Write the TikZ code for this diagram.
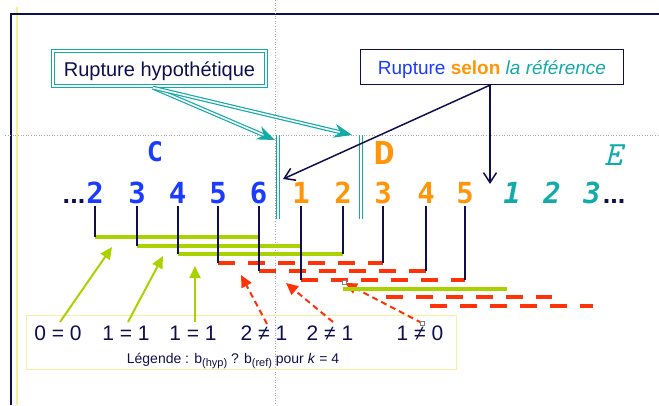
\documentclass[tikz,border=0pt]{standalone}
\usepackage{fontspec}
\setmainfont{Liberation Sans}
\newfontfamily\dmono{DejaVu Sans Mono}
\newfontfamily\lmono{Liberation Mono}
\usetikzlibrary{arrows.meta}
\definecolor{cblue}{RGB}{25,60,255}
\definecolor{corange}{RGB}{255,150,10}
\definecolor{cteal}{RGB}{20,170,170}
\definecolor{cnavy}{RGB}{15,15,80}
\definecolor{cgreen}{RGB}{170,210,0}
\definecolor{cred}{RGB}{255,50,10}
\definecolor{cyellow}{RGB}{245,240,160}
\tikzset{
  digit/.style={anchor=base, inner sep=0, font=\fontsize{29}{29}\selectfont\dmono\bfseries},
  bdig/.style={digit, text=cblue},
  odig/.style={digit, text=corange},
  tdig/.style={digit, text=cteal, font=\fontsize{29}{29}\selectfont\dmono\bfseries\itshape},
  dots/.style={anchor=base, inner sep=0, text=cnavy, font=\fontsize{27}{27}\selectfont\bfseries},
  vline/.style={cnavy, line width=2pt},
  gbar/.style={cgreen, line width=4pt},
  rbar/.style={cred, line width=4pt, dash pattern=on 17pt off 13pt},
  garrow/.style={cgreen, line width=2pt, -{Triangle[length=12pt,width=11pt]}},
  rarrow/.style={cred, line width=2pt, dash pattern=on 6pt off 4pt, -{Triangle[length=12pt,width=11pt]}},
  tarrow/.style={cteal, double=white, line width=1.2pt, double distance=1.6pt, -{Stealth[length=18pt,width=14pt]}},
  narrow/.style={cnavy, line width=1.5pt, -{Straight Barb[length=10pt,width=13pt]}},
  tbar/.style={cteal, double=white, line width=1.2pt, double distance=1.6pt},
  legtext/.style={anchor=base, inner sep=0, text=cnavy, font=\fontsize{21}{21}\selectfont},
  handle/.style={draw=gray, fill=white, line width=0.5pt, minimum size=4pt, inner sep=0},
  tealframe/.style={cteal, line width=1.3pt},
}
\begin{document}
\begin{tikzpicture}[x=1pt,y=-1pt]
\useasboundingbox (0,0) rectangle (659,405);
% frame and guides
\draw[cyellow, line width=1.5pt] (17,7) -- (17,405);
\draw[cnavy, line width=1.5pt] (11,405) -- (11,14) -- (659,14);
\draw[gray!70, dotted, line width=0.6pt] (275,0) -- (275,405);
\draw[gray!70, dotted, line width=0.6pt] (5,135) -- (659,135);

% boxes
\node[minimum width=216pt, minimum height=38pt, inner sep=0,
      text height=17pt, text depth=2pt, font=\fontsize{20}{20}\selectfont]
  (hyp) at (159.5,68.5) {\textcolor{cnavy}{Rupture hypothétique}};
\draw[tealframe] (hyp.north west) rectangle (hyp.south east);
\draw[tealframe] ([xshift=3pt,yshift=-3pt]hyp.north west) rectangle ([xshift=-3pt,yshift=3pt]hyp.south east);
\node[draw=cnavy, line width=1.3pt, minimum width=263pt, minimum height=35pt, inner sep=0,
      text height=16pt, text depth=2pt, font=\fontsize{19}{19}\selectfont]
  (ref) at (492,67) {\textcolor{cblue}{Rupture} \textcolor{corange}{\bfseries selon} \textcolor{cteal}{\itshape la référence}};
\node[draw=cyellow, line width=1.5pt, minimum width=430pt, minimum height=54pt, inner sep=0]
  (leg) at (241.5,342.5) {};

% segment labels
\node[text=cblue, font=\fontsize{27}{27}\selectfont\dmono\bfseries] (C) at (155,152) {C};
\node[text=corange, font=\fontsize{35}{35}\selectfont\lmono\bfseries] (D) at (384,153) {D};
\node[text=cteal, font=\fontsize{34}{34}\selectfont\ttfamily\itshape] (E) at (613,155) {E};

% digits
\node[dots] (ldots) at (74,203) {...};
\node[bdig] (b2) at (95,203) {2};
\node[bdig] (b3) at (137,203) {3};
\node[bdig] (b4) at (177.5,203) {4};
\node[bdig] (b5) at (218,203) {5};
\node[bdig] (b6) at (258.5,203) {6};
\node[odig] (o1) at (301,203) {1};
\node[odig] (o2) at (343,203) {2};
\node[odig] (o3) at (383,203) {3};
\node[odig] (o4) at (426,203) {4};
\node[odig] (o5) at (465,203) {5};
\node[tdig] (t1) at (512,203) {1};
\node[tdig] (t2) at (552,203) {2};
\node[tdig] (t3) at (592,203) {3};
\node[dots] (rdots) at (614,203) {...};

% teal double bars (hypothesis boundaries)
\coordinate (h1top) at (278,135); \coordinate (h1bot) at (278,219);
\coordinate (h2top) at (361,135); \coordinate (h2bot) at (361,219);
\draw[tbar] (h1top) -- (h1bot);
\draw[tbar] (h2top) -- (h2bot);

% arrows from the two boxes
\coordinate (hypout) at ([xshift=-6.5pt]hyp.south);
\coordinate (h1tip) at (275,140);
\coordinate (h2tip) at (352,135);
\draw[tarrow] (hypout) -- (h1tip);
\draw[tarrow] (hypout) -- (h2tip);
\coordinate (refout) at ([xshift=-2pt]ref.south);
\coordinate (r1tip) at (283,179);
\coordinate (r2tip) at (490,184);
\draw[narrow] (refout) -- (r1tip);
\draw[narrow] (refout) -- (r2tip);

% legend texts
\node[legtext] (l1) at (58,340) {0 = 0};
\node[legtext] (l2) at (126,340) {1 = 1};
\node[legtext] (l3) at (193,340) {1 = 1};
\node[legtext] (l4) at (264,340) {2 ≠ 1};
\node[legtext] (l5) at (330,340) {2 ≠ 1};
\node[legtext] (l6) at (420,340) {1 ≠ 0};
\node[anchor=base, inner sep=0, text=cnavy, font=\fontsize{14}{14}\selectfont] (lg) at (233,363)
  {Légende : b\raisebox{-3.5pt}{\fontsize{11}{11}\selectfont(hyp)} ? b\raisebox{-3.5pt}{\fontsize{11}{11}\selectfont(ref)} pour \textit{k} = 4};

% arrows from legend to windows
\coordinate (a1) at (112,247);
\coordinate (a2) at (163,256);
\coordinate (a3) at (195,266);
\coordinate (a4) at (241,275);
\coordinate (a5) at (286,283);
\coordinate (a6) at (345,283);
\draw[garrow] ([xshift=2pt,yshift=18pt]l1.base) -- (a1);
\draw[garrow] ([xshift=2pt,yshift=18pt]l2.base) -- (a2);
\draw[garrow] ([xshift=2pt,yshift=18pt]l3.base) -- (a3);
\draw[rarrow] ([xshift=3pt,yshift=16pt]l4.base) -- (a4);
\draw[rarrow] ([xshift=3pt,yshift=18pt]l5.base) -- (a5);
\draw[rarrow] ([xshift=2pt,yshift=17pt]l6.base) -- (a6);

% window bars
\draw[gbar] (b2.base |- 0,237)   -- (b6.base |- 0,237);
\draw[gbar] (b3.base |- 0,245.6) -- (o1.base |- 0,245.6);
\draw[gbar] (b4.base |- 0,254.2) -- (o2.base |- 0,254.2);
\draw[rbar] (b5.base |- 0,262.8) -- (o3.base |- 0,262.8);
\draw[rbar] (b6.base |- 0,271.4) -- (o4.base |- 0,271.4);
\draw[rbar] (o1.base |- 0,280)   -- (o5.base |- 0,280);
\draw[gbar] (o2.base |- 0,288.6) -- ([xshift=-5pt]t1.base |- 0,288.6);
\draw[rbar] ([xshift=3pt]o3.base |- 0,297.2) -- (t2.base |- 0,297.2);
\draw[rbar] ([xshift=4pt]o4.base |- 0,305.8) -- ([xshift=1pt]t3.base |- 0,305.8);

% vertical ticks from digits
\draw[vline] ([yshift=-3pt]b2.base) -- (b2.base |- 0,237);
\draw[vline] ([yshift=-3pt]b3.base) -- (b3.base |- 0,245.6);
\draw[vline] ([yshift=-3pt]b4.base) -- (b4.base |- 0,254.2);
\draw[vline] ([yshift=-3pt]b5.base) -- (b5.base |- 0,262.8);
\draw[vline] ([yshift=-3pt]b6.base) -- (b6.base |- 0,271.4);
\draw[vline] ([yshift=-3pt]o1.base) -- (o1.base |- 0,280);
\draw[vline] ([yshift=-3pt]o2.base) -- (o2.base |- 0,254.2);
\draw[vline] ([yshift=-3pt]o3.base) -- (o3.base |- 0,262.8);
\draw[vline] ([yshift=-3pt]o4.base) -- (o4.base |- 0,271.4);
\draw[vline] ([yshift=-3pt]o5.base) -- (o5.base |- 0,280);

% selection handles
\node[handle] (s1) at (344,282) {};
\node[handle] (s2) at (422,323) {};
\end{tikzpicture}
\end{document}
